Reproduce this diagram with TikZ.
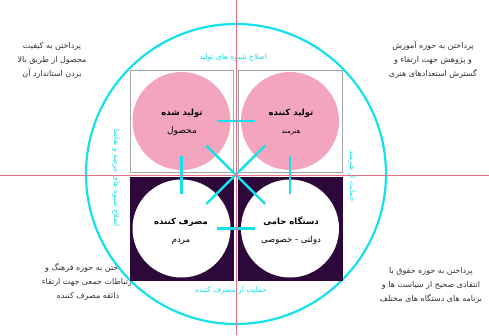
\documentclass[tikz,border=0pt]{standalone}
\usepackage{fontspec}
\TeXXeTstate=1
\newfontfamily\fa[Script=Arabic]{DejaVu Sans}
\newcommand{\rl}[1]{\beginR #1\endR}
\definecolor{cyanc}{RGB}{20,225,235}
\definecolor{pinkc}{RGB}{242,165,188}
\definecolor{darkc}{RGB}{45,8,58}
\definecolor{redl}{RGB}{232,110,130}
\begin{document}
\begin{tikzpicture}[x=1pt,y=-1pt,
  corner/.style={font=\fa\fontsize{8}{14}\selectfont, align=center, text=black!80},
  side/.style={font=\fa\fontsize{7.5}{8}\selectfont, text=cyanc},
  main/.style={font=\fa\fontsize{8.5}{18}\selectfont, align=center, text=black},
  box/.style={draw=gray!70, line width=0.8pt},
  disc/.style={circle, minimum size=98pt, inner sep=0pt},
  conn/.style={draw=cyanc, line width=2.4pt, shorten <=35pt, shorten >=35pt}]
\useasboundingbox (0,0) rectangle (489,335);
% corner texts
\node[corner] (ctl) at (52,60) {\rl{پرداختن به کیفیت}\\\rl{محصول از طریق بالا}\\\rl{بردن استاندارد آن}};
\node[corner] (ctr) at (433,60) {\rl{پرداختن به حوزه آموزش}\\\rl{و پژوهش جهت ارتقاء و}\\\rl{گسترش استعدادهای هنری}};
\node[corner] (cbl) at (88,282) {\rl{پرداختن به حوزه فرهنگ و}\\\rl{ارتباطات جمعی جهت ارتقاء}\\\rl{ذائقه مصرف کننده}};
\node[corner] (cbr) at (431,285) {\rl{پرداختن به حوزه حقوق با}\\\rl{انتقادی صحیح از سیاست ها و}\\\rl{برنامه های دستگاه های مختلف}};
% big circle
\node[circle, draw=cyanc, fill=white, line width=2.2pt, minimum size=300pt, inner sep=0pt] (big) at (236,174) {};
% boxes
\node[box, fill=white, minimum width=103pt, minimum height=102pt, inner sep=0pt] (btl) at (181.5,121) {};
\node[box, fill=white, minimum width=104pt, minimum height=102pt, inner sep=0pt] (btr) at (290,121) {};
\node[draw=darkc, fill=darkc, minimum width=103pt, minimum height=103pt, inner sep=0pt] (bbl) at (181.5,228.5) {};
\node[draw=darkc, fill=darkc, minimum width=104pt, minimum height=103pt, inner sep=0pt] (bbr) at (290,228.5) {};
% discs
\node[disc, fill=pinkc] (tl) at (btl.center) {};
\node[disc, fill=pinkc] (tr) at (btr.center) {};
\node[disc, fill=white] (bl) at (bbl.center) {};
\node[disc, fill=white] (br) at (bbr.center) {};
% connectors
\draw[conn] (tl.center) -- (tr.center);
\draw[conn] (bl.center) -- (br.center);
\draw[conn] (tl.center) -- (bl.center);
\draw[conn] (tr.center) -- (br.center);
\draw[conn] (tl.center) -- (br.center);
\draw[conn] (tr.center) -- (bl.center);
% texts in discs
\node[main] (ttl) at (182,122) {\textbf{\rl{تولید شده}}\\{\fontsize{9}{9}\selectfont\rl{محصول}}};
\node[main] (ttr) at (291,122) {\textbf{\rl{تولید کننده}}\\{\fontsize{6.8}{8}\selectfont\rl{هنرمند}}};
\node[main] (tbl) at (181,231) {\textbf{\rl{مصرف کننده}}\\\rl{مردم}};
\node[main] (tbr) at (291,231) {\textbf{\rl{دستگاه حامی}}\\\rl{دولتی - خصوصی}};
% side labels
\node[side] (stop) at (233,58) {\rl{اصلاح شیوه های تولید}};
\node[side] (sbot) at (231,291) {\rl{حمایت از مصرف کننده}};
\node[side, rotate=-90] (sleft) at (116,178) {\rl{اصلاح شیوه های عرضه و تقاضا}};
\node[side, rotate=-90] (sright) at (352,176) {\rl{حمایت از هنرمند}};
% red axes
\coordinate (ht) at (236,0);
\coordinate (hb) at (236,335);
\coordinate (vl) at (0,175);
\coordinate (vr) at (489,175);
\draw[redl, line width=0.6pt] (ht) -- (hb);
\draw[redl, line width=0.6pt] (vl) -- (vr);
\end{tikzpicture}
\end{document}
